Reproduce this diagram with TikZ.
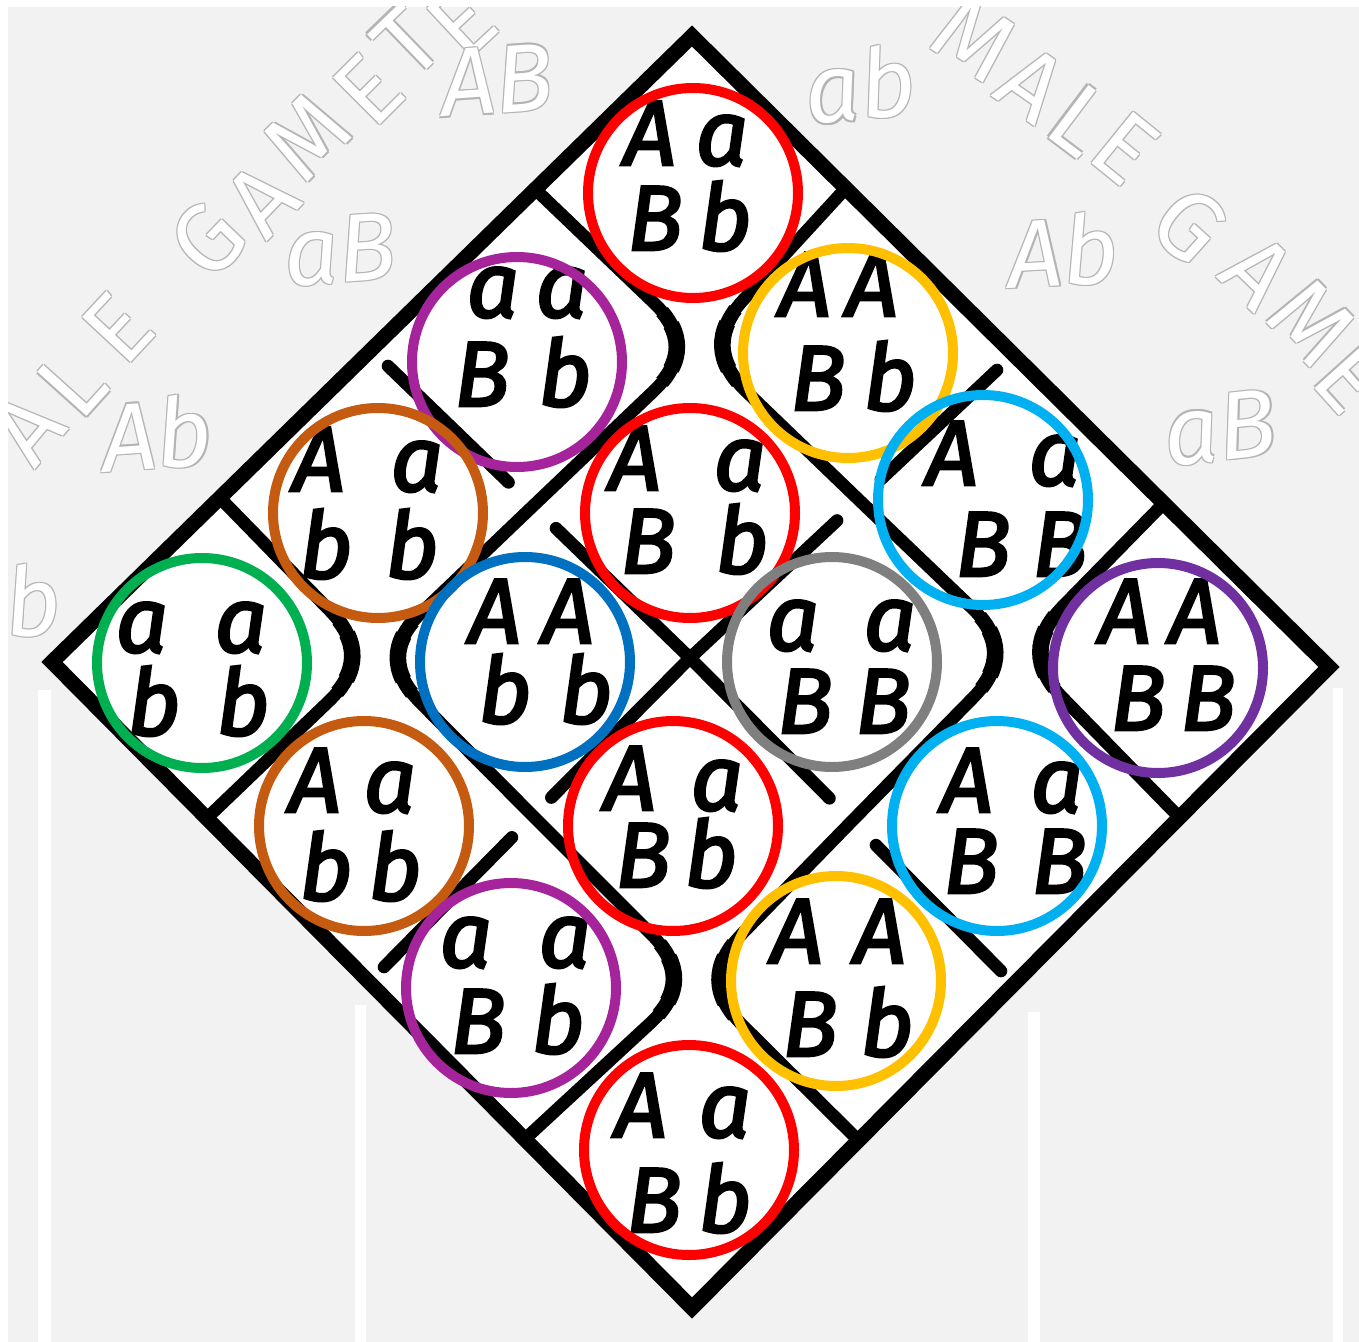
\documentclass[tikz,border=0pt]{standalone}
\usepackage{fontspec}
\setmainfont{Fira Sans}
\newfontfamily\gtfam{Fira Sans}[FakeBold=3]
\usetikzlibrary{calc}
\definecolor{bggray}{HTML}{F2F2F2}
\definecolor{wmline}{HTML}{B4B4B4}
\definecolor{cred}{HTML}{FF0000}
\definecolor{cyellow}{HTML}{FFC000}
\definecolor{cmag}{HTML}{A6249B}
\definecolor{cdpurple}{HTML}{7030A0}
\definecolor{ccyan}{HTML}{00B0F0}
\definecolor{corange}{HTML}{C55A11}
\definecolor{cgreen}{HTML}{00B050}
\definecolor{cblue}{HTML}{0070C0}
\definecolor{cgrey}{HTML}{7F7F7F}
\newcommand\wmfont{\fontsize{48}{52}\selectfont}
\newcommand\wlfont{\fontsize{48}{52}\selectfont\itshape}
\newcommand\gtfont{\fontsize{46}{50}\selectfont\gtfam\itshape}
\tikzset{
  gridline/.style={line width=6.3pt, line cap=round, line join=round},
  outerline/.style={line width=7.5pt, line join=miter},
  corea/.style={line width=7.3pt},
  coreb/.style={line width=8.3pt},
  gt/.style={font=\gtfont, anchor=base, inner sep=0pt},
  ring/.style={circle, draw=#1, line width=5pt, minimum size=105pt, inner sep=0pt},
  wmw/.style={font=\wmfont, text=white, inner sep=0pt},
  wmo/.style={font=\wmfont, text=wmline, inner sep=0pt},
}
\newcommand\wmark[5]{%
  \foreach \dx/\dy [count=\k] in {-1.2/-1.2,1.2/1.2,-1.2/1.2,1.2/-1.2}{
    \node[wmo,#4] (#1o\k) at ($(#2,#3)+(\dx,\dy)$) {#5};}
  \node[wmw,#4] (#1) at (#2,#3) {#5};}
\newcommand\mkcorner[4]{%
  \coordinate (#1s) at ($(#2)!32pt!(#3)$);
  \coordinate (#1e) at ($(#2)!32pt!(#4)$);
  \coordinate (#1a) at ($(#1s)!0.6667!(#2)$);
  \coordinate (#1b) at ($(#1e)!0.6667!(#2)$);
  \coordinate (#1m) at ($0.81*(#1s)+0.18*(#2)+0.01*(#1e)$);
  \coordinate (#1n) at ($0.01*(#1s)+0.18*(#2)+0.81*(#1e)$);
  \coordinate (#1q) at ($0.09*(#1s)+0.82*(#2)+0.09*(#1e)$);
  \coordinate (#1u) at ($0.5625*(#1s)+0.375*(#2)+0.0625*(#1e)$);
  \coordinate (#1v) at ($0.0625*(#1s)+0.375*(#2)+0.5625*(#1e)$);
  \coordinate (#1w) at ($0.1875*(#1s)+0.625*(#2)+0.1875*(#1e)$);
  \draw[corea] (#1m) .. controls ($(#1m)!0.6667!(#1q)$) and ($(#1n)!0.6667!(#1q)$) .. (#1n);
  \draw[coreb] (#1u) .. controls ($(#1u)!0.6667!(#1w)$) and ($(#1v)!0.6667!(#1w)$) .. (#1v);
}
\begin{document}
\begin{tikzpicture}[x=0.5pt,y=-0.5pt]
\useasboundingbox (0,0) rectangle (1359,1342);
\fill[white] (0,0) rectangle (1359,1342);
\fill[bggray] (8,7) rectangle (1359,1342);
\fill[white] (38,690) rectangle (51,1342);
\fill[white] (355,1005) rectangle (366,1342);
\fill[white] (1028,1012) rectangle (1040,1342);
\fill[white] (1333,688) rectangle (1343,1342);
% watermark texts
\begin{scope}
\clip (8,7) rectangle (1359,1342);
\wmark{fl1}{27}{428}{rotate=50}{A}
\wmark{fl2}{72}{384}{rotate=48}{L}
\wmark{fl3}{118}{328}{rotate=47}{E}
\wmark{fl4}{208}{240}{rotate=46}{G}
\wmark{fl5}{262}{200}{rotate=46}{A}
\wmark{fl6}{307}{137}{rotate=45}{M}
\wmark{fl7}{368}{90}{rotate=45}{E}
\wmark{fl8}{407}{42}{rotate=44}{T}
\wmark{fl9}{462}{22}{rotate=43}{E}
\wmark{fr1}{975}{38}{rotate=-33}{M}
\wmark{fr2}{1032}{84}{rotate=-35}{A}
\wmark{fr3}{1080}{120}{rotate=-37}{L}
\wmark{fr4}{1125}{148}{rotate=-39}{E}
\wmark{fr5}{1190}{225}{rotate=-42}{G}
\wmark{fr6}{1258}{272}{rotate=-44}{A}
\wmark{fr7}{1312}{322}{rotate=-46}{M}
\wmark{fr8}{1350}{378}{rotate=-48}{E}
\wmark{gl1}{497}{80}{rotate=4,font=\wlfont}{AB}
\wmark{gl2}{340}{250}{rotate=4,font=\wlfont}{aB}
\wmark{gl3}{157}{433}{rotate=4,font=\wlfont}{Ab}
\wmark{gl4}{33}{600}{rotate=4,font=\wlfont}{b}
\wmark{gr1}{860}{84}{rotate=6,font=\wlfont}{ab}
\wmark{gr2}{1063}{250}{rotate=3,font=\wlfont}{Ab}
\wmark{gr3}{1220}{428}{rotate=6,font=\wlfont}{aB}
\end{scope}
% diamond
\coordinate (T) at (692,36);
\coordinate (R) at (1329,667);
\coordinate (B) at (692,1308);
\coordinate (L) at (52,662);
\fill[white] (T) -- (R) -- (B) -- (L) -- cycle;
% grid points
\coordinate (P11) at (700,347);
\coordinate (P12) at (533,506);
\coordinate (P13) at (375,657);
\coordinate (P21) at (859,500);
\coordinate (P22) at (690,658);
\coordinate (P23) at (533,816);
\coordinate (P31) at (1018,652);
\coordinate (P32) at (852,821);
\coordinate (P33) at (697,980);
\coordinate (P01) at (535,189);
\coordinate (P03) at (220,498);
\coordinate (P10) at (846,188);
\coordinate (P30) at (1163,504);
\coordinate (P14) at (207,818);
\coordinate (P34) at (526,1138);
\coordinate (P41) at (1180,818);
\coordinate (P43) at (858,1140);
\coordinate (J2a) at (388,366);
\coordinate (J2b) at (1001,971);
\coordinate (I2a) at (997,370);
\coordinate (I2b) at (384,967);
% rounded corners
\mkcorner{K1}{P11}{P01}{P12}
\mkcorner{K2}{P11}{P10}{P21}
\mkcorner{K3}{P13}{P03}{P14}
\mkcorner{K4}{P13}{P12}{P23}
\mkcorner{K5}{P31}{P21}{P32}
\mkcorner{K6}{P31}{P30}{P41}
\mkcorner{K7}{P33}{P23}{P34}
\mkcorner{K8}{P33}{P32}{P43}
\draw[gridline] (P01) -- (K1s) .. controls (K1a) and (K1b) .. (K1e) -- (P12) -- (K4s) .. controls (K4a) and (K4b) .. (K4e) -- (P23) -- (K7s) .. controls (K7a) and (K7b) .. (K7e) -- (P34);
\draw[gridline] (P10) -- (K2s) .. controls (K2a) and (K2b) .. (K2e) -- (P21) -- (K5s) .. controls (K5a) and (K5b) .. (K5e) -- (P32) -- (K8s) .. controls (K8a) and (K8b) .. (K8e) -- (P43);
\draw[gridline] (P03) -- (K3s) .. controls (K3a) and (K3b) .. (K3e) -- (P14);
\draw[gridline] (P30) -- (K6s) .. controls (K6a) and (K6b) .. (K6e) -- (P41);
% middle lines (broken)
\draw[gridline] (J2a) -- ($(P12)!17pt!(J2a)$);
\draw[gridline] ($(P12)!16pt!(P22)$) -- (P22) -- ($(P32)!16pt!(P22)$);
\draw[gridline] ($(P32)!17pt!(J2b)$) -- (J2b);
\draw[gridline] (I2a) -- ($(P21)!15pt!(I2a)$);
\draw[gridline] ($(P21)!15pt!(P22)$) -- (P22) -- ($(P23)!13pt!(P22)$);
\draw[gridline] ($(P23)!15pt!(I2b)$) -- (I2b);
% outer edge
\draw[outerline] (T) -- (R) -- (B) -- (L) -- cycle;
% genotype letters
\foreach \nm/\x/\y/\t in {
g00a/650/165/A, g00b/722/165/a, g00c/655/250/B, g00d/725/250/b,
g10a/805/316/A, g10b/872/316/A, g10c/818/410/B, g10d/890/410/b,
g01a/493/317/a, g01b/562/317/a, g01c/482/406/B, g01d/565/406/b,
g20a/952/485/A, g20b/1055/485/a, g20c/983/576/B, g20d/1060/576/B,
g11a/635/490/A, g11b/740/490/a, g11c/648/573/B, g11d/742/573/b,
g02a/319/491/A, g02b/417/491/a, g02c/326/578/b, g02d/412/578/b,
g30a/1125/643/A, g30b/1195/643/A, g30c/1138/730/B, g30d/1208/730/B,
g21a/793/650/a, g21b/890/650/a, g21c/805/733/B, g21d/883/733/B,
g12a/495/643/A, g12b/568/643/A, g12c/505/723/b, g12d/586/723/b,
g03a/142/652/a, g03b/241/652/a, g03c/154/735/b, g03d/243/735/b,
g31a/967/812/A, g31b/1057/812/a, g31c/971/893/B, g31d/1059/893/B,
g22a/630/810/A, g22b/717/810/a, g22c/643/887/B, g22d/711/887/b,
g13a/315/812/A, g13b/390/812/a, g13c/326/900/b, g13d/395/900/b,
g32a/797/963/A, g32b/880/963/A, g32c/810/1056/B, g32d/887/1056/b,
g23a/466/967/a, g23b/565/967/a, g23c/478/1053/B, g23d/558/1053/b,
g33a/641/1137/A, g33b/725/1137/a, g33c/654/1232/B, g33d/725/1232/b}
  \node[gt] (\nm) at (\x,\y) {\t};
% coloured rings
\foreach \nm/\x/\y/\c in {
c00/693/193/cred, c10/848/353/cyellow, c01/517/362/cmag, c20/983/500/ccyan,
c11/690/513/cred, c02/378/513/corange, c30/1158/668/cdpurple, c21/832/662/cgrey,
c12/525/662/cblue, c03/202/663/cgreen, c31/997/826/ccyan, c22/673/826/cred,
c13/364/826/corange, c32/836/981/cyellow, c23/511/988/cmag, c33/689/1150/cred}
  \node[ring=\c] (\nm) at (\x,\y) {};
\end{tikzpicture}
\end{document}
